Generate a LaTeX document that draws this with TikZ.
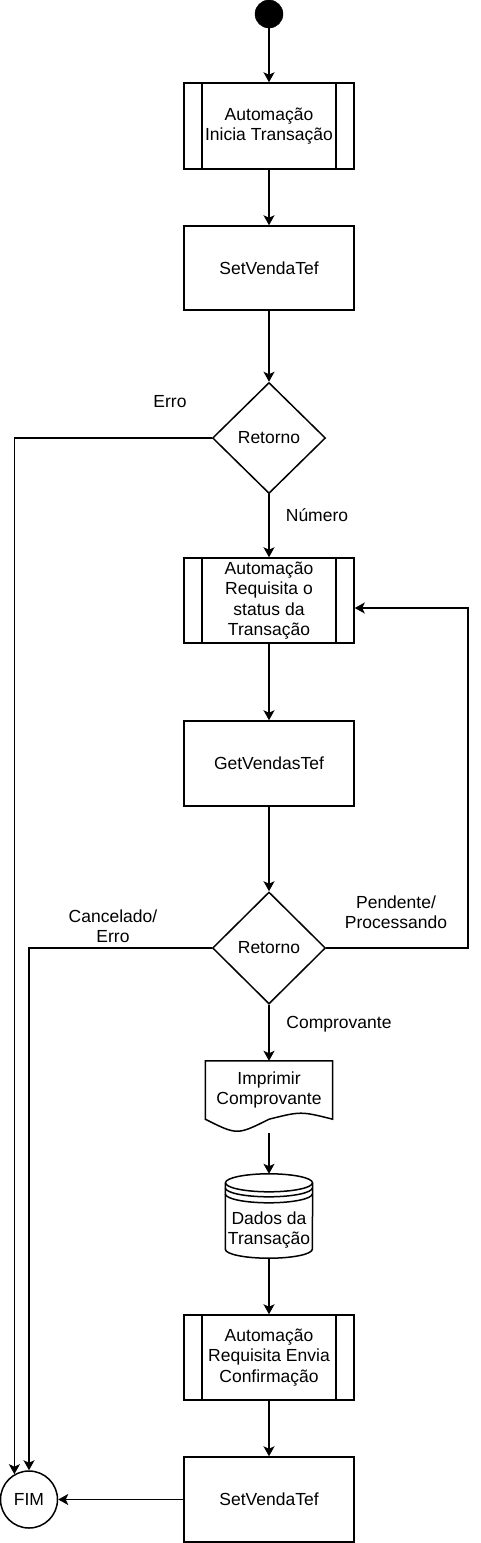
\documentclass[tikz,border=0pt]{standalone}
\usepackage{fontspec}
\setmainfont{Liberation Sans}
\usetikzlibrary{shapes.geometric,arrows.meta,calc}
\begin{document}
\begin{tikzpicture}[x=1pt,y=-1pt,
  line/.style={line width=1.5pt, draw=black},
  arr/.style={line, -{Stealth[length=10pt,width=11pt,inset=2.5pt]}},
  txt/.style={font=\fontsize{17.5}{20.4}\selectfont, text=black, align=center},
  lbl/.style={txt, inner sep=0pt},
  proc/.style={txt, line, rectangle, minimum width=170pt, minimum height=85pt, inner sep=0pt},
  subproc/.style={proc, path picture={
      \draw[line] ([xshift=18pt]path picture bounding box.north west) -- ([xshift=18pt]path picture bounding box.south west);
      \draw[line] ([xshift=-18pt]path picture bounding box.north east) -- ([xshift=-18pt]path picture bounding box.south east);}},
  decision/.style={txt, line, diamond, minimum width=113pt, minimum height=111pt, inner sep=0pt},
  startnode/.style={circle, fill=black, draw=black, minimum size=28pt, inner sep=0pt},
  endnode/.style={txt, line, circle, minimum size=57pt, inner sep=0pt},
  plain/.style={txt, inner sep=0pt}
]
\useasboundingbox (0,0) rectangle (480,1543);

\node[startnode] (start) at (269,14) {};
\node[subproc, minimum height=86pt] (A1) at (269,126) {Automação\\Inicia Transação};
\node[proc, minimum height=84pt] (S1) at (269,268) {SetVendaTef};
\node[decision] (D1) at (269,438) {Retorno};
\node[subproc] (A2) at (269,600.5) {Automação\\Requisita o\\status da\\Transação};
\node[proc] (G) at (269,763.5) {GetVendasTef};
\node[decision, minimum height=112pt] (D2) at (269,948) {Retorno};
\node[plain, minimum width=127pt, minimum height=58pt] (Doc) at (269,1090) {Imprimir\\Comprovante};
\node[plain, minimum width=87pt, minimum height=56pt] (Cyl) at (269,1230) {Dados da\\Transação};
\node[subproc] (A3) at (269,1357.5) {Automação\\Requisita Envia\\Confirmação};
\node[proc] (S2) at (269,1499.5) {SetVendaTef};
\node[endnode] (FIM) at (29,1499.5) {FIM};

% document shape
\draw[line] (Doc.south west) -- (Doc.north west) -- (Doc.north east) -- (Doc.south east)
  .. controls ($(Doc.south)!0.5!(Doc.south east)+(0,-8)$) .. (Doc.south)
  .. controls ($(Doc.south)!0.5!(Doc.south west)+(0,16)$) .. (Doc.south west) -- cycle;

% data store shape
\draw[line] ($(Cyl.north west)+(0,-19)$) -- ($(Cyl.south west)+(0,-9)$)
  arc[start angle=180, end angle=360, x radius=43.5pt, y radius=9pt]
  -- ($(Cyl.north east)+(0,-19)$);
\draw[line] ($(Cyl.north)+(0,-19)$) ellipse [x radius=43.5pt, y radius=9pt];
\draw[line] ($(Cyl.north west)+(0,-14)$) arc[start angle=180, end angle=360, x radius=43.5pt, y radius=9pt];
\draw[line] ($(Cyl.north west)+(0,-8)$) arc[start angle=180, end angle=360, x radius=43.5pt, y radius=9pt];

% labels
\node[lbl] (lErro) at (170,402) {Erro};
\node[lbl] (lNum) at (317,515) {Número};
\node[lbl] (lCanc) at (113,926) {Cancelado/\\Erro};
\node[lbl] (lPend) at (396,912) {Pendente/\\Processando};
\node[lbl] (lComp) at (339,1024) {Comprovante};

\coordinate (loopc) at (468,608);

% connectors
\draw[arr] (start) -- (A1);
\draw[arr] (A1) -- (S1);
\draw[arr] (S1) -- (D1);
\draw[arr] (D1) -- (A2);
\draw[arr] (A2) -- (G);
\draw[arr] (G) -- (D2);
\draw[arr] (D2) -- (Doc.north);
\draw[arr] ($(Doc.south)+(0,14)$) -- ($(Cyl.north)+(0,-28)$);
\draw[arr] (Cyl.south) -- (A3.north);
\draw[arr] (A3) -- (S2);
\draw[arr] (S2.west) -- (FIM.east);
\draw[arr] (D1.west) -| (FIM.120);
\draw[arr] (D2.west) -| (FIM.north);
\draw[arr] (D2.east) -| (loopc) -- (A2.east |- loopc);
\end{tikzpicture}
\end{document}
